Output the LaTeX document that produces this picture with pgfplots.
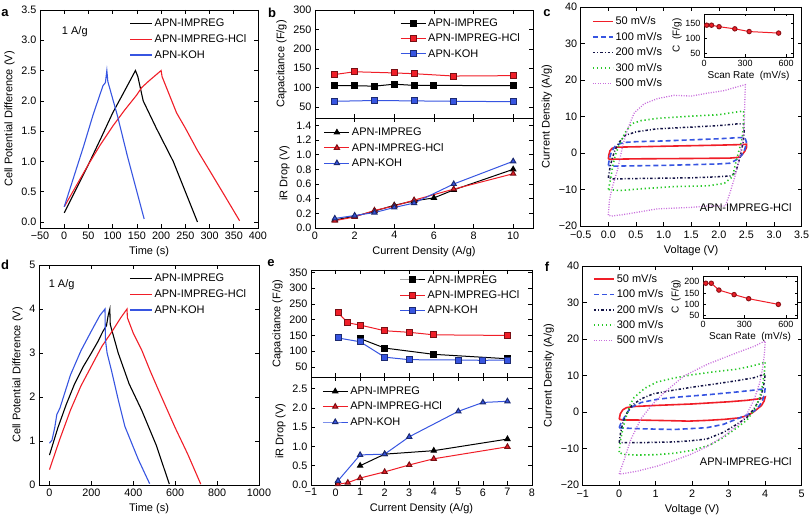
\documentclass[border=0pt]{standalone}
\usepackage{fontspec}
\setmainfont{Liberation Sans}
\usepackage{pgfplots}
\pgfplotsset{compat=1.18}
\definecolor{mred}{RGB}{240,30,40}
\definecolor{mblue}{RGB}{55,85,225}
\definecolor{mnavy}{RGB}{20,20,70}
\definecolor{mgreen}{RGB}{40,200,40}
\definecolor{mviolet}{RGB}{200,110,220}
\pgfplotsset{
 base/.style={scale only axis, anchor=south west, tick align=inside, major tick length=4pt,
   axis line style={line width=0.7pt}, every tick/.style={black, line width=0.6pt},
   tick label style={font=\fontsize{10.8}{12}\selectfont},
   label style={font=\fontsize{11}{13}\selectfont},
   /pgf/number format/assume math mode=true, legend cell align=left},
 lineleg/.style={legend style={draw=none, fill=none, font=\fontsize{11}{13}\selectfont,
   inner sep=0pt, row sep=2.5pt, anchor=north west},
   legend image code/.code={\draw[##1] (0pt,0pt) -- (22pt,0pt);}},
 cvleg/.style={legend style={draw=none, fill=none, font=\fontsize{11}{13}\selectfont,
   inner sep=0pt, row sep=2pt, anchor=north west},
   legend image code/.code={\draw[##1] (0pt,0pt) -- (20pt,0pt);}},
 markleg/.style={legend style={draw=none, fill=none, font=\fontsize{11}{13}\selectfont,
   inner sep=0pt, row sep=2pt, anchor=north west},
   legend image code/.code={\draw[mark repeat=2,mark phase=2,##1] plot coordinates {(0pt,0pt)(12.5pt,0pt)(25pt,0pt)};}},
 inset/.style={scale only axis, anchor=south west, tick align=inside, major tick length=2.5pt,
   axis background/.style={fill=white},
   axis line style={line width=0.6pt}, every tick/.style={black, line width=0.5pt},
   tick label style={font=\fontsize{9}{10}\selectfont},
   label style={font=\fontsize{10}{11}\selectfont},
   xlabel style={yshift=3pt}, ylabel style={yshift=-3pt},
   /pgf/number format/assume math mode=true},
 gcd/.style={line width=1.1pt},
 sqk/.style={black, line width=1pt, mark=square*, mark size=3pt, mark options={fill=black, draw=black}},
 sqr/.style={mred, line width=1pt, mark=square*, mark size=3pt, mark options={fill=mred, draw=black!50!mred}},
 sqb/.style={mblue, line width=1pt, mark=square*, mark size=3pt, mark options={fill=mblue, draw=black!50!mblue}},
 trk/.style={black, line width=1pt, mark=triangle*, mark size=3pt, mark options={fill=black, draw=black}},
 trr/.style={mred, line width=1pt, mark=triangle*, mark size=3pt, mark options={fill=mred, draw=black!50!mred}},
 trb/.style={mblue, line width=1pt, mark=triangle*, mark size=3pt, mark options={fill=mblue, draw=black!50!mblue}},
 cv50/.style={color=mred, line width=1.6pt, solid},
 cv100/.style={color=mblue, line width=1.6pt, dash pattern=on 5pt off 3pt},
 cv200/.style={color=mnavy, line width=1.5pt, dash pattern=on 2.5pt off 2pt on 1pt off 2pt},
 cv300/.style={color=mgreen, line width=1.6pt, dash pattern=on 1.3pt off 2.7pt},
 cv500/.style={color=mviolet, line width=1.3pt, dash pattern=on 1pt off 1.5pt},
}
\begin{document}
\begin{tikzpicture}
\useasboundingbox (0pt,0pt) rectangle (809pt,519pt);

% ---------------- panel a ----------------
\begin{axis}[base, at={(40pt,291pt)}, width=218pt, height=218pt,
  xmin=-50, xmax=400, ymin=-0.1, ymax=3.5,
  xtick={-50,0,50,100,150,200,250,300,350,400},
  xticklabels={−50,0,50,100,150,200,250,300,350,400},
  ytick={0,0.5,1,1.5,2,2.5,3,3.5},
  yticklabels={0.0,0.5,1.0,1.5,2.0,2.5,3.0,3.5},
  xlabel={Time (s)}, ylabel={Cell Potential Difference (V)},
  lineleg, legend style={at={(0.41,0.97)}}]
\addplot[black, gcd] coordinates {(0,0.15)(25,0.55)(50,0.95)(75,1.37)(100,1.8)(125,2.17)(147,2.5)(152,2.4)(163,2.0)(190,1.55)(225,1.0)(250,0.5)(275,0.0)};
\addlegendentry{APN-IMPREG}
\addplot[mred, gcd] coordinates {(0,0.25)(25,0.6)(50,0.95)(75,1.28)(100,1.58)(125,1.85)(150,2.1)(160,2.22)(175,2.33)(200,2.5)(202,2.4)(232,1.8)(250,1.55)(275,1.18)(300,0.85)(330,0.45)(362,0.02)};
\addlegendentry{APN-IMPREG-HCl}
\addplot[mblue, gcd] coordinates {(0,0.25)(20,0.75)(40,1.25)(60,1.78)(80,2.25)(85,2.3)(88,2.5)(90,2.32)(110,1.75)(130,1.1)(150,0.5)(165,0.05)};
\addlegendentry{APN-KOH}
\node[anchor=west, font=\fontsize{11}{13}\selectfont] at (axis cs:-12,3.15) {1 A/g};
\end{axis}

% ---------------- panel b ----------------
\begin{axis}[base, at={(315pt,401pt)}, width=218pt, height=108pt,
  xmin=0, xmax=11, ymin=22, ymax=300,
  xtick={0,2,4,6,8,10}, xticklabels={},
  ytick={50,100,150,200,250,300},
  ylabel={Capacitance (F/g)},
  markleg, legend style={at={(0.39,0.94)}}]
\addplot[sqk] coordinates {(1,105)(2,105)(3,104)(4,109)(5,106)(6,106)(10,105)};
\addlegendentry{APN-IMPREG}
\addplot[sqr] coordinates {(1,134)(2,141)(4,138)(5,136)(7,130)(10,131)};
\addlegendentry{APN-IMPREG-HCl}
\addplot[sqb] coordinates {(1,65)(3,67)(5,66)(7,65)(10,64)};
\addlegendentry{APN-KOH}
\end{axis}
\begin{axis}[base, at={(315pt,291pt)}, width=218pt, height=110pt,
  xmin=0, xmax=11, ymin=0, ymax=1.5,
  xtick={0,2,4,6,8,10},
  ytick={0,0.2,0.4,0.6,0.8,1.0,1.2,1.4},
  yticklabels={0.0,0.2,0.4,0.6,0.8,1.0,1.2,1.4},
  xlabel={Current Density (A/g)}, ylabel={iR Drop (V)},
  markleg, legend style={at={(0.04,0.93)}}]
\addplot[trk] coordinates {(1,0.11)(2,0.16)(3,0.23)(4,0.31)(5,0.37)(6,0.41)(7,0.52)(10,0.80)};
\addlegendentry{APN-IMPREG}
\addplot[trr] coordinates {(1,0.10)(2,0.15)(3,0.24)(4,0.30)(5,0.38)(7,0.53)(10,0.74)};
\addlegendentry{APN-IMPREG-HCl}
\addplot[trb] coordinates {(1,0.13)(2,0.17)(3,0.21)(4,0.28)(5,0.34)(7,0.60)(10,0.91)};
\addlegendentry{APN-KOH}
\end{axis}

% ---------------- panel c ----------------
\begin{axis}[base, at={(580.7pt,293pt)}, width=221pt, height=219pt,
  xmin=-0.5, xmax=3.5, ymin=-20, ymax=40,
  xtick={-0.5,0,0.5,1,1.5,2,2.5,3,3.5},
  xticklabels={−0.5,0.0,0.5,1.0,1.5,2.0,2.5,3.0,3.5},
  xticklabel style={yshift=-1.5pt},
  ytick={-20,-10,0,10,20,30,40},
  yticklabels={−20,−10,0,10,20,30,40},
  xlabel={Voltage (V)}, ylabel={Current Density (A/g)},
  cvleg, legend style={at={(0.05,0.965)}}]
\addplot[cv50] coordinates {(0,-1.7)(0.01,-0.5)(0.03,0.6)(0.07,1.3)(0.15,1.6)(0.5,1.7)(1.0,1.85)(1.5,2.0)(2.0,2.15)(2.4,2.3)(2.5,2.4)(2.5,1.5)(2.47,0.5)(2.42,-0.5)(2.35,-1.2)(2.2,-1.4)(1.5,-1.5)(1.0,-1.55)(0.5,-1.6)(0.1,-1.7)(0,-1.7)};
\addlegendentry{50 mV/s}
\addplot[cv100] coordinates {(0,-3.4)(0.02,-1.5)(0.06,0.5)(0.12,1.8)(0.2,2.5)(0.3,2.9)(0.5,3.1)(1.0,3.3)(1.5,3.6)(2.0,3.9)(2.35,4.2)(2.47,4.2)(2.5,3.0)(2.47,1.0)(2.42,-0.5)(2.35,-1.6)(2.2,-2.8)(2.0,-3.0)(1.5,-3.2)(1.0,-3.4)(0.5,-3.5)(0.1,-3.6)(0,-3.4)};
\addlegendentry{100 mV/s}
\addplot[cv200] coordinates {(0,-6.8)(0.03,-4)(0.07,-1.5)(0.12,0.8)(0.2,3.0)(0.3,4.8)(0.5,5.8)(0.87,6.6)(1.5,7.1)(2.0,7.5)(2.35,8.0)(2.45,8.0)(2.46,6)(2.44,3)(2.4,0)(2.35,-3)(2.3,-5.5)(2.2,-6.3)(2.0,-6.5)(1.5,-6.8)(1.0,-6.9)(0.5,-7.0)(0.1,-7.1)(0,-6.8)};
\addlegendentry{200 mV/s}
\addplot[cv300] coordinates {(0,-10)(0.04,-7.3)(0.08,-3.6)(0.13,-0.4)(0.2,2.3)(0.3,5.5)(0.42,8.0)(0.6,8.9)(0.9,9.5)(1.5,10.1)(2.0,10.5)(2.35,11.3)(2.45,11.5)(2.45,8)(2.42,4)(2.38,1.5)(2.3,-3)(2.25,-6.5)(2.1,-8.3)(1.8,-9.0)(1.2,-9.2)(0.6,-9.8)(0.2,-10.3)(0,-10)};
\addlegendentry{300 mV/s}
\addplot[cv500] coordinates {(0,-17)(0.02,-13)(0.06,-10)(0.17,-4.4)(0.26,2)(0.35,6.6)(0.47,11.0)(0.65,13.5)(0.89,14.9)(1.19,15.8)(1.5,15.6)(1.8,16.4)(2.1,17.1)(2.35,18.2)(2.48,18.7)(2.47,14)(2.46,8)(2.43,3)(2.38,-1)(2.3,-6)(2.2,-11)(2.12,-14.5)(1.8,-14.5)(1.5,-14.9)(0.89,-15.3)(0.5,-16.3)(0.3,-16.8)(0.05,-17.3)(0,-17)};
\addlegendentry{500 mV/s}
\node[anchor=south east, font=\fontsize{11}{13}\selectfont] at (rel axis cs:0.97,0.05) {APN-IMPREG-HCl};
\end{axis}
\begin{axis}[inset, at={(704pt,462pt)}, width=89pt, height=43pt,
  xmin=0, xmax=650, ymin=38, ymax=180,
  xtick={0,300,600}, ytick={50,100,150},
  xlabel={Scan Rate\ \ (mV/s)}, ylabel={C\ \ (F/g)}]
\addplot[mred, line width=1pt, mark=*, mark size=2.2pt, mark options={fill=mred, draw=black!40!mred}] coordinates {(20,143)(55,143)(110,138)(225,131)(330,122)(545,117)};
\end{axis}

% ---------------- panel d ----------------
\begin{axis}[base, at={(39pt,34pt)}, width=220pt, height=220pt,
  xmin=-50, xmax=1000, ymin=0, ymax=5,
  xtick={0,200,400,600,800,1000}, xticklabels={0,200,400,600,800,1000},
  ytick={0,1,2,3,4,5},
  xlabel={Time (s)}, ylabel={Cell Potential Difference (V)},
  lineleg, legend style={at={(0.41,0.97)}}]
\addplot[black, gcd] coordinates {(0,0.68)(40,1.3)(80,1.83)(120,2.3)(160,2.68)(200,3.0)(230,3.25)(256,3.5)(272,3.62)(280,3.85)(288,4.0)(290,3.65)(328,3.0)(380,2.3)(440,1.7)(510,0.9)(572,0.02)};
\addlegendentry{APN-IMPREG}
\addplot[mred, gcd] coordinates {(0,0.35)(50,1.05)(100,1.7)(150,2.25)(200,2.7)(250,3.15)(300,3.5)(340,3.8)(370,4.0)(372,3.8)(400,3.45)(440,3.07)(480,2.6)(520,2.16)(600,1.3)(660,0.7)(722,0.02)};
\addlegendentry{APN-IMPREG-HCl}
\addplot[mblue, gcd] coordinates {(0,0.95)(12,1.02)(25,1.3)(35,1.6)(50,1.75)(100,2.5)(150,3.05)(200,3.5)(240,3.85)(265,4.0)(267,3.3)(275,3.0)(296,2.6)(330,1.9)(360,1.33)(424,0.58)(478,0.03)};
\addlegendentry{APN-KOH}
\node[anchor=west, font=\fontsize{11}{13}\selectfont] at (axis cs:-20,4.55) {1 A/g};
\end{axis}

% ---------------- panel e ----------------
\begin{axis}[base, at={(311pt,142pt)}, width=221pt, height=107pt,
  xmin=-1, xmax=8, ymin=18, ymax=358,
  xtick={-1,0,1,2,3,4,5,6,7,8}, xticklabels={},
  ytick={50,100,150,200,250,300,350},
  ylabel={Capacitance (F/g)},
  markleg, legend style={at={(0.40,0.97)}}]
\addplot[sqk] coordinates {(1,140)(2,110)(4,90)(7,76)};
\addlegendentry{APN-IMPREG}
\addplot[sqr] coordinates {(0.1,222)(0.5,190)(1,183)(2,165)(3,160)(4,152)(7,150)};
\addlegendentry{APN-IMPREG-HCl}
\addplot[sqb] coordinates {(0.1,142)(1,130)(2,81)(3,73)(5,72)(6,71)(7,72)};
\addlegendentry{APN-KOH}
\end{axis}
\begin{axis}[base, at={(311pt,34pt)}, width=221pt, height=108pt,
  xmin=-1, xmax=8, ymin=0, ymax=2.8,
  xtick={-1,0,1,2,3,4,5,6,7,8}, xticklabels={−1,0,1,2,3,4,5,6,7,8},
  ytick={0,0.5,1,1.5,2,2.5}, yticklabels={0.0,0.5,1.0,1.5,2.0,2.5},
  xlabel={Current Density (A/g)}, ylabel={iR Drop (V)},
  markleg, legend style={at={(0.05,0.93)}}]
\addplot[trk] coordinates {(1,0.5)(2,0.8)(4,0.89)(7,1.19)};
\addlegendentry{APN-IMPREG}
\addplot[trr] coordinates {(0.1,0.02)(0.5,0.06)(1,0.18)(2,0.34)(3,0.52)(4,0.68)(7,0.99)};
\addlegendentry{APN-IMPREG-HCl}
\addplot[trb] coordinates {(0.1,0.11)(1,0.78)(2,0.8)(3,1.25)(5,1.91)(6,2.14)(7,2.17)};
\addlegendentry{APN-KOH}
\end{axis}

% ---------------- panel f ----------------
\begin{axis}[base, at={(582.7pt,34pt)}, width=219pt, height=219pt,
  xmin=-1, xmax=5, ymin=-20, ymax=40,
  xtick={-1,0,1,2,3,4,5}, xticklabels={−1,0,1,2,3,4,5},
  xticklabel style={yshift=-1.5pt},
  ytick={-20,-10,0,10,20,30,40},
  yticklabels={−20,−10,0,10,20,30,40},
  xlabel={Voltage (V)}, ylabel={Current Density (A/g)},
  cvleg, legend style={at={(0.047,0.973)}}]
\addplot[cv50] coordinates {(0,-2.0)(0.03,-0.5)(0.1,0.6)(0.2,1.2)(0.4,1.5)(0.6,1.6)(1.0,1.8)(1.5,2.0)(2.0,2.2)(2.5,2.5)(3.0,2.8)(3.5,3.2)(3.9,3.7)(4.0,4.1)(3.97,3.0)(3.9,1.8)(3.78,0.8)(3.65,-0.2)(3.5,-1.0)(3.3,-1.6)(2.9,-2.0)(2.4,-2.3)(1.9,-2.5)(1.5,-2.4)(1.0,-2.3)(0.5,-2.2)(0.1,-2.2)(0,-2.0)};
\addlegendentry{50 mV/s}
\addplot[cv100] coordinates {(0,-4.3)(0.05,-3.0)(0.14,-1.5)(0.25,0.3)(0.35,1.4)(0.6,2.6)(1.05,3.5)(1.5,4.0)(2.0,4.4)(2.5,4.8)(3.24,5.5)(3.7,6.0)(3.95,6.3)(4.0,6.6)(3.98,5.0)(3.93,3.3)(3.85,1.8)(3.7,0.3)(3.5,-0.8)(3.2,-2.0)(2.85,-3.4)(2.4,-4.3)(1.5,-4.8)(0.6,-4.6)(0.1,-4.4)(0,-4.3)};
\addlegendentry{100 mV/s}
\addplot[cv200] coordinates {(0,-8.4)(0.04,-5.5)(0.1,-3)(0.2,-0.5)(0.35,1.8)(0.6,3.6)(0.94,5.0)(1.5,6.0)(2.0,6.8)(2.5,7.5)(3.24,8.6)(3.7,9.4)(3.93,10.2)(4.0,10.5)(3.98,8.5)(3.93,6)(3.85,3.5)(3.7,1)(3.5,-1.5)(3.2,-3.5)(2.85,-5.6)(2.4,-7.4)(1.94,-7.9)(1.5,-8.2)(0.6,-8.4)(0,-8.4)};
\addlegendentry{200 mV/s}
\addplot[cv300] coordinates {(0,-11)(0.03,-8)(0.1,-4.5)(0.2,-1.0)(0.3,2.0)(0.4,3.9)(0.7,6.5)(1.03,8.2)(1.5,9.3)(1.94,10.1)(2.5,10.9)(3.2,11.7)(3.6,12.5)(3.9,13.3)(4.0,13.8)(3.98,11)(3.93,7.5)(3.85,4)(3.7,0.5)(3.5,-2.2)(3.2,-4.5)(2.85,-7)(2.5,-9)(2.0,-10.5)(1.5,-11.3)(1.0,-11.7)(0.5,-11.8)(0.1,-11.6)(0,-11)};
\addlegendentry{300 mV/s}
\addplot[cv500] coordinates {(0,-17)(0.05,-15.5)(0.14,-13)(0.32,-7.5)(0.6,-1.8)(0.9,2)(1.23,5.3)(1.78,9.9)(2.42,13.1)(3.24,16.3)(3.7,18)(4.0,19.5)(3.98,16)(3.93,12)(3.85,8)(3.7,3.5)(3.5,-0.5)(3.33,-2.9)(2.87,-6.6)(2.4,-9.5)(1.96,-11.6)(1.5,-13.3)(1.05,-14.8)(0.5,-16.2)(0.1,-16.9)(0,-17)};
\addlegendentry{500 mV/s}
\node[anchor=south east, font=\fontsize{11}{13}\selectfont] at (rel axis cs:0.97,0.073) {APN-IMPREG-HCl};
\end{axis}
\begin{axis}[inset, at={(703pt,201pt)}, width=94pt, height=42pt,
  xmin=0, xmax=680, ymin=40, ymax=225,
  xtick={0,300,600}, ytick={50,100,150,200},
  xlabel={Scan Rate\ \ (mV/s)}, ylabel={C\ \ (F/g)}]
\addplot[mred, line width=1pt, mark=*, mark size=2.2pt, mark options={fill=mred, draw=black!40!mred}] coordinates {(20,193)(60,193)(115,163)(225,143)(330,125)(545,100)};
\end{axis}

% panel letters
\begin{scope}[every node/.style={font=\bfseries\fontsize{13}{14}\selectfont}]
\node at (5pt,506pt) {a};
\node at (272pt,506pt) {b};
\node at (547pt,506pt) {c};
\node at (5pt,254pt) {d};
\node at (271pt,256pt) {e};
\node at (547pt,252pt) {f};
\end{scope}
\end{tikzpicture}
\end{document}
